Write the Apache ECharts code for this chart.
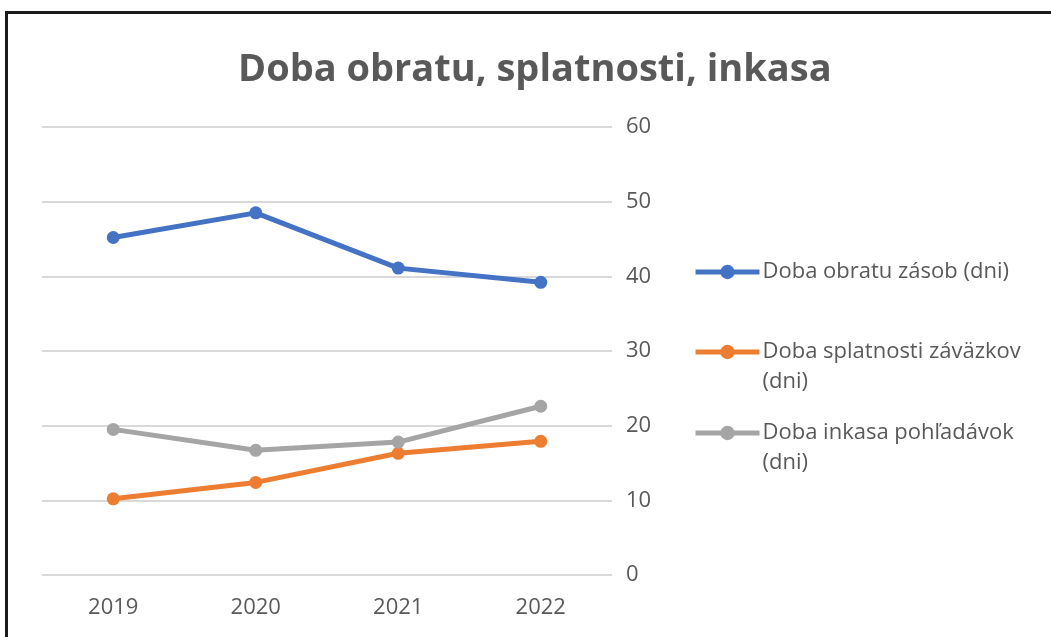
<!DOCTYPE html>
<html>
<head>
<meta charset="utf-8">
<script src="https://cdn.jsdelivr.net/npm/echarts@6/dist/echarts.min.js"></script>
<style>
html,body{margin:0;padding:0;background:#fff;overflow:hidden;}
#frame{position:absolute;left:5px;top:11px;width:1100px;height:700px;border:3px solid #1a1a1a;box-sizing:border-box;}
#chart{position:absolute;left:0;top:0;width:1051px;height:637px;}
</style>
</head>
<body>
<div id="frame"></div>
<div id="chart"></div>
<script>
const titleText = 'Doba obratu, splatnosti, inkasa';
const categories = ['2019', '2020', '2021', '2022'];
const seriesNames = ['Doba obratu zásob (dni)', 'Doba splatnosti záväzkov (dni)', 'Doba inkasa pohľadávok (dni)'];
const legendLabels = ['Doba obratu zásob (dni)', '\nDoba splatnosti záväzkov\n(dni)', '\nDoba inkasa pohľadávok\n(dni)'];
const zasob = [45.2, 48.5, 41.1, 39.2];
const zavazkov = [10.2, 12.4, 16.3, 17.9];
const pohladavok = [19.5, 16.7, 17.8, 22.6];
const colors = ['#4472C4', '#ED7D31', '#A5A5A5'];
const values = [zasob, zavazkov, pohladavok];
const legendCenters = [272, 352, 433];

const font = 'Open Sans';
const LH = 30;
const chart = echarts.init(document.getElementById('chart'));
chart.setOption({
  backgroundColor: 'transparent',
  animation: false,
  title: {
    text: titleText, left: 233, top: 46,
    textStyle: {fontFamily: font, fontWeight: 'bold', fontSize: 38, color: '#595959'}
  },
  grid: {left: 42, right: 439, top: 127, bottom: 62, containLabel: false},
  xAxis: {
    type: 'category', data: categories, boundaryGap: true,
    axisLine: {show: false}, axisTick: {show: false},
    axisLabel: {fontFamily: font, fontSize: 22, color: '#595959', margin: 22}
  },
  yAxis: {
    type: 'value', position: 'right', min: 0, max: 60, interval: 10,
    axisLine: {show: false}, axisTick: {show: false},
    splitLine: {lineStyle: {color: '#D9D9D9', width: 2}},
    axisLabel: {fontFamily: font, fontSize: 22, color: '#595959', margin: 14}
  },
  legend: seriesNames.map((n, i) => {
    const lines = legendLabels[i].split('\n').length;
    const h = lines * LH;
    return {
      data: [n], orient: 'vertical', left: 688, top: legendCenters[i] - h / 2 - 5,
      itemWidth: 64, itemHeight: 18, padding: 5,
      lineStyle: {width: 5},
      formatter: () => legendLabels[i],
      textStyle: {fontFamily: font, fontSize: 22, color: '#595959', lineHeight: LH,
        padding: [0, 0, 0, -2]}
    };
  }),
  series: seriesNames.map((n, i) => ({
    name: n, type: 'line', data: values[i],
    symbol: 'circle', symbolSize: 13,
    lineStyle: {color: colors[i], width: 5},
    itemStyle: {color: colors[i]}
  }))
});
</script>
</body>
</html>
